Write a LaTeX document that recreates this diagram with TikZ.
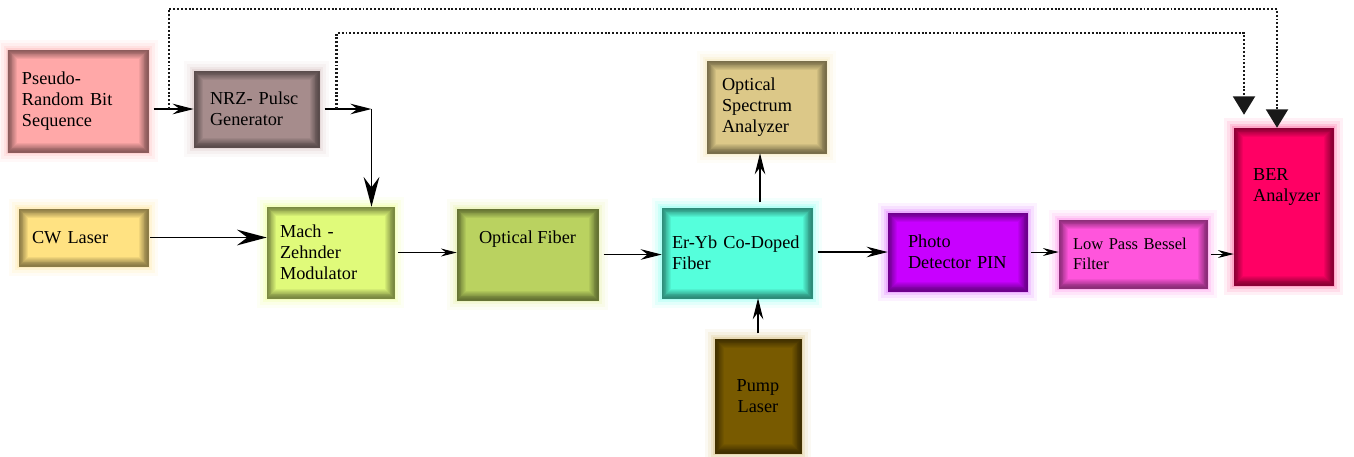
\documentclass[tikz,border=0pt]{standalone}
\usepackage{fontspec}
\setmainfont{Liberation Serif}
\usetikzlibrary{arrows.meta, positioning, calc}

\definecolor{prbsfill}{HTML}{FFA8A8}  \definecolor{prbsglow}{HTML}{FF9A9A}
\definecolor{nrzfill}{HTML}{A68C8C}   \definecolor{nrzglow}{HTML}{C8AAAA}
\definecolor{cwfill}{HTML}{FFE282}    \definecolor{cwglow}{HTML}{FFD870}
\definecolor{mzmfill}{HTML}{E0FA7A}   \definecolor{mzmglow}{HTML}{E8FF70}
\definecolor{fiberfill}{HTML}{BAD260} \definecolor{fiberglow}{HTML}{D8E878}
\definecolor{erybfill}{HTML}{55FFDC}  \definecolor{erybglow}{HTML}{50FFE8}
\definecolor{osafill}{HTML}{DCC888}   \definecolor{osaglow}{HTML}{F0DC98}
\definecolor{pumpfill}{HTML}{785A00}  \definecolor{pumpglow}{HTML}{C8A850}
\definecolor{pinfill}{HTML}{C800FF}   \definecolor{pinglow}{HTML}{D040FF}
\definecolor{lpffill}{HTML}{FF55DC}   \definecolor{lpfglow}{HTML}{FF60E0}
\definecolor{berfill}{HTML}{FF0064}   \definecolor{berglow}{HTML}{FF3080}

\begin{document}
\begin{tikzpicture}[
    block/.style 2 args={rectangle, fill=#1, draw=#1!55!black, line width=0.3pt, inner sep=0pt,
        preaction={draw=#2, line width=11pt, draw opacity=0.07},
        preaction={draw=#2, line width=8pt, draw opacity=0.1},
        preaction={draw=#2, line width=5pt, draw opacity=0.15},
        preaction={draw=#2, line width=2.5pt, draw opacity=0.2},
        path picture={
            \foreach \w in {1,...,10}
                \draw[black, opacity=0.055, line width=\w pt] (path picture bounding box.south west) rectangle (path picture bounding box.north east);
        },
        font=\fontsize{10.4}{12}\selectfont},
    boxtext/.style={inner sep=0pt, font=\fontsize{10.4}{12}\selectfont},
    flow/.style={-{Stealth[length=12pt, width=6pt, inset=4pt]}, line width=0.6pt, shorten <=3pt},
    bigflow/.style={-{Stealth[length=17pt, width=9pt, inset=6pt]}, line width=1.1pt},
    thinflow/.style={-{Stealth[length=9pt, width=4.5pt, inset=3pt]}, line width=0.5pt, shorten <=2pt},
    monitor/.style={-{Triangle[length=10.5pt, width=12.5pt]}, line width=1.3pt, dash pattern=on 1.1pt off 1.1pt, black!90}
]
\useasboundingbox (0,0) rectangle (27.08,-9.12);

% Transmitter side
\node (prbs) [block={prbsfill}{prbsglow}, minimum width=2.80cm, minimum height=2.04cm, text width=2.24cm, inner xsep=0.28cm, align=left] at (1.56,-2.02) {Pseudo-\\Random Bit\\Sequence};
\node (nrz) [block={nrzfill}{nrzglow}, minimum width=2.50cm, minimum height=1.52cm, text width=1.86cm, inner xsep=0.32cm, align=left] at (5.13,-2.18) {NRZ- Pulsc\\Generator};
\node (cw) [block={cwfill}{cwglow}, minimum width=2.58cm, minimum height=1.14cm, text width=2.06cm, inner xsep=0.26cm, align=left] at (1.67,-4.75) {CW Laser};
\node (mzm) [block={mzmfill}{mzmglow}, minimum width=2.54cm, minimum height=1.82cm, text width=2.02cm, inner xsep=0.26cm, align=left] at (6.61,-5.05) {Mach -\\Zehnder\\Modulator};

% Link and amplifier
\node (fiber) [block={fiberfill}{fiberglow}, minimum width=2.82cm, minimum height=1.82cm] at (10.55,-5.09) {};
\node (fibertxt) [boxtext, below=0.44cm of fiber.north] {Optical Fiber};
\node (eryb) [block={erybfill}{erybglow}, minimum width=3.00cm, minimum height=1.80cm, text width=2.60cm, inner xsep=0.20cm, align=left] at (14.74,-5.06) {Er-Yb Co-Doped\\Fiber};
\node (osa) [block={osafill}{osaglow}, minimum width=2.38cm, minimum height=1.84cm, text width=1.78cm, inner xsep=0.30cm, align=left] at (15.33,-2.14) {Optical\\Spectrum\\Analyzer};
\node (pump) [block={pumpfill}{pumpglow}, minimum width=1.72cm, minimum height=2.28cm, align=center] at (15.16,-7.92) {Pump\\Laser};

% Receiver side
\node (pin) [block={pinfill}{pinglow}, minimum width=2.78cm, minimum height=1.56cm, text width=1.98cm, inner xsep=0.40cm, align=left] at (19.15,-5.04) {Photo\\Detector PIN};
\node (lpf) [block={lpffill}{lpfglow}, minimum width=2.96cm, minimum height=1.36cm, text width=2.40cm, inner xsep=0.28cm, align=left, font=\fontsize{9.4}{11.3}\selectfont] at (22.66,-5.08) {Low Pass Bessel\\Filter};
\node (ber) [block={berfill}{berglow}, minimum width=1.98cm, minimum height=3.14cm] at (25.67,-4.13) {};
\node (bertxt) [boxtext, align=left, below right=0.80cm and 0.38cm of ber.north west] {BER\\Analyzer};

% Signal path
\coordinate (tap1) at ($(prbs.east |- nrz.west)!0.45!(nrz.west)$);
\coordinate (bend) at ([xshift=0.82cm]mzm.north |- nrz.east);
\coordinate (tap2) at ($(nrz.east)!0.33!(bend)$);
\draw [flow] (prbs.east |- nrz.west) -- (nrz.west);
\draw [flow, line width=0.8pt] (nrz.east) -- (bend);
\draw [bigflow] (bend) -- (bend |- mzm.north);
\draw [bigflow, shorten <=1pt] (cw.east) -- (cw.east -| mzm.west);
\draw [thinflow] (mzm.east) -- (mzm.east -| fiber.west);
\draw [flow] (fiber.east) -- (fiber.east -| eryb.west);
\draw [flow] ([xshift=0.46cm]eryb.north) -- ([xshift=0.46cm]eryb.north |- osa.south);
\draw [flow] (pump.north) -- (pump.north |- eryb.south);
\draw [flow] (eryb.east |- pin.west) -- (pin.west);
\draw [thinflow] (pin.east) -- (pin.east -| lpf.west);
\draw [thinflow] (lpf.east) -- (lpf.east -| ber.west);

% Reference bits to the BER analyzer
\draw [monitor] (tap1) -- ++(0,2.0) -| ([xshift=-0.13cm]ber.north);
\draw [monitor] (tap2) -- ++(0,1.52) -| ([xshift=-0.79cm, yshift=0.26cm]ber.north);

\end{tikzpicture}
\end{document}
